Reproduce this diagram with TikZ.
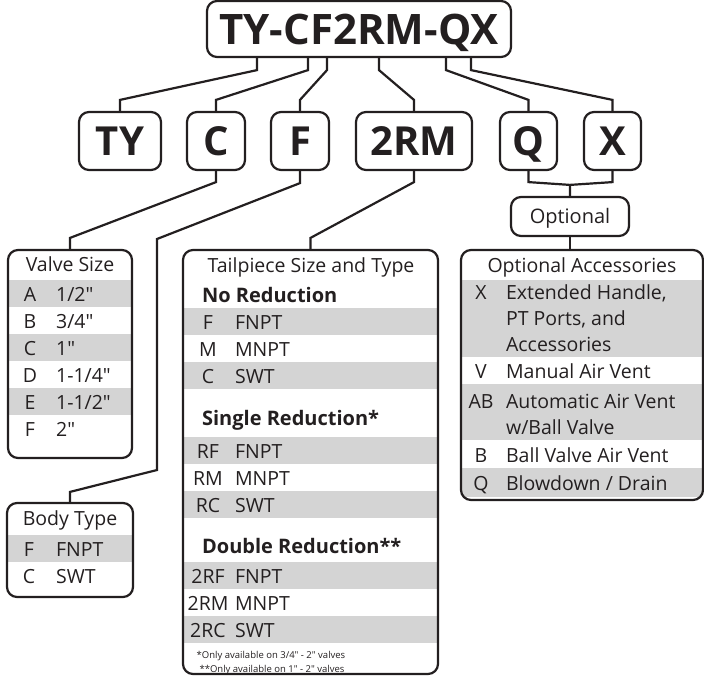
\documentclass[tikz,border=0pt]{standalone}
\usepackage{fontspec}
\setmainfont{Open Sans}[Ligatures=TeXOff]
\usetikzlibrary{positioning}
\definecolor{inkdark}{HTML}{231F20}
\definecolor{rowgray}{HTML}{D4D4D4}

\begin{document}
\begin{tikzpicture}[x=1pt, y=-1pt, color=inkdark, line width=2.2pt,
  codebox/.style={rectangle, rounded corners=10pt, draw=inkdark, inner sep=0pt, minimum height=58pt, text height=29pt, text depth=0pt, font=\fontsize{40}{40}\selectfont\bfseries},
  listbox/.style={rectangle, rounded corners=10pt, draw=inkdark, inner sep=0pt},
  rowtext/.style={font=\fontsize{19.5}{26}\selectfont, inner sep=0pt, anchor=base west},
  codetext/.style={font=\fontsize{19.5}{26}\selectfont, inner sep=0pt, anchor=base},
  headtext/.style={font=\fontsize{20}{24}\selectfont\bfseries, inner sep=0pt, anchor=base west},
  notetext/.style={font=\fontsize{9.5}{11}\selectfont, inner sep=0pt, anchor=base},
  link/.style={draw=inkdark, line width=2.2pt}]
\useasboundingbox (0,0) rectangle (704,675);

% Gray rows
\fill[rowgray] (8,280) rectangle (132,307);
\fill[rowgray] (8,334) rectangle (132,361);
\fill[rowgray] (8,388) rectangle (132,415);
\fill[rowgray] (7,535) rectangle (133,562);
\fill[rowgray] (183,308) rectangle (438,335);
\fill[rowgray] (183,362) rectangle (438,389);
\fill[rowgray] (183,437) rectangle (438,464);
\fill[rowgray] (183,491) rectangle (438,518);
\fill[rowgray] (183,562) rectangle (438,589);
\fill[rowgray] (183,616) rectangle (438,643);
\begin{scope}
\clip[rounded corners=10pt] (461,250) rectangle (703,500);
\fill[rowgray] (461,280) rectangle (703,357);
\fill[rowgray] (461,384) rectangle (703,440);
\fill[rowgray] (461,468) rectangle (703,497);
\end{scope}

% Boxes
\node[codebox, minimum width=304pt, minimum height=56pt, text height=30pt, font=\fontsize{42}{42}\selectfont\bfseries] (model) at (359,29) {TY-CF2RM-QX};
\node[codebox, minimum width=82pt] (ty) at (120,141) {TY};
\node[codebox, minimum width=58pt] (c) at (216,141) {C};
\node[codebox, minimum width=58pt] (f) at (300,141) {F};
\node[codebox, minimum width=116pt] (rm) at (414,141) {2RM};
\node[codebox, minimum width=57pt] (q) at (528.5,141) {Q};
\node[codebox, minimum width=57pt] (x) at (612.5,141) {X};
\node[listbox, minimum width=118pt, minimum height=39pt, text height=14pt, text depth=0pt, font=\fontsize{20}{24}\selectfont] (opt) at (570,216.5) {Optional};

\node[listbox, minimum width=124pt, minimum height=208pt] (valve) at (70,354) {};
\node[listbox, minimum width=126pt, minimum height=94pt] (body) at (70,550) {};
\node[listbox, minimum width=255pt, minimum height=424pt] (tail) at (310.5,462) {};
\node[listbox, minimum width=242pt, minimum height=250pt] (acc) at (582,375) {};

% Connectors
\coordinate (fbend1) at (157,239);
\coordinate (fbend2) at (157,470);
\draw[link] ([xshift=-102pt]model.south) -- ++(0,12) -- ([yshift=11pt]ty.north) -- (ty.north);
\draw[link] ([xshift=-51pt]model.south) -- ++(0,12) -- ([yshift=11pt]c.north) -- (c.north);
\draw[link] ([xshift=-32pt]model.south) -- ++(0,12) -- ([yshift=11pt]f.north) -- (f.north);
\draw[link] ([xshift=20pt]model.south) -- ++(0,12) -- ([yshift=11pt]rm.north) -- (rm.north);
\draw[link] ([xshift=87pt]model.south) -- ++(0,12) -- ([yshift=11pt]q.north) -- (q.north);
\draw[link] ([xshift=112pt]model.south) -- ++(0,12) -- ([yshift=11pt]x.north) -- (x.north);
\draw[link] (q.south) -- ++(0,11) -- ([yshift=11pt]opt.north) -- (opt.north);
\draw[link] (x.south) -- ++(0,11) -- ([yshift=11pt]opt.north);
\draw[link] (opt.south) -- (opt.south |- acc.north);
\draw[link] (c.south) -- ++(0,11) -- ([yshift=11pt]valve.north) -- (valve.north);
\draw[link] (f.south) -- ++(0,12) -- (fbend1) -- (fbend2) -- ([yshift=10pt]body.north) -- (body.north);
\draw[link] (rm.south) -- ++(0,11) -- ([yshift=11pt]tail.north) -- (tail.north);

% Valve Size
\node[codetext] at (70,271) {Valve Size};
\node[codetext] at (30,301) {A};  \node[rowtext] at (55,301) {1/2"};
\node[codetext] at (30,328) {B};  \node[rowtext] at (55,328) {3/4"};
\node[codetext] at (30,355) {C};  \node[rowtext] at (55,355) {1"};
\node[codetext] at (30,382) {D};  \node[rowtext] at (55,382) {1-1/4"};
\node[codetext] at (30,409) {E};  \node[rowtext] at (55,409) {1-1/2"};
\node[codetext] at (30,436) {F};  \node[rowtext] at (55,436) {2"};

% Body Type
\node[codetext] at (70,525) {Body Type};
\node[codetext] at (29,556) {F};  \node[rowtext] at (55,556) {FNPT};
\node[codetext] at (29,583) {C};  \node[rowtext] at (55,583) {SWT};

% Tailpiece Size and Type
\node[codetext] at (311,272) {Tailpiece Size and Type};
\node[headtext] at (201,302) {No Reduction};
\node[codetext] at (208,329) {F};  \node[rowtext] at (234,329) {FNPT};
\node[codetext] at (208,356) {M};  \node[rowtext] at (234,356) {MNPT};
\node[codetext] at (208,383) {C};  \node[rowtext] at (234,383) {SWT};
\node[headtext] at (201,425) {Single Reduction*};
\node[codetext] at (208,458) {RF};  \node[rowtext] at (234,458) {FNPT};
\node[codetext] at (208,485) {RM};  \node[rowtext] at (234,485) {MNPT};
\node[codetext] at (208,512) {RC};  \node[rowtext] at (234,512) {SWT};
\node[headtext] at (201,553) {Double Reduction**};
\node[codetext] at (208,583) {2RF};  \node[rowtext] at (234,583) {FNPT};
\node[codetext] at (208,610) {2RM};  \node[rowtext] at (234,610) {MNPT};
\node[codetext] at (208,637) {2RC};  \node[rowtext] at (234,637) {SWT};
\node[notetext] at (271,658) {*Only available on 3/4" - 2" valves};
\node[notetext] at (272,672) {**Only available on 1" - 2" valves};

% Optional Accessories
\node[codetext] at (582,272) {Optional Accessories};
\node[codetext] at (481,299) {X};  \node[rowtext, align=left] at (505,351) {Extended Handle,\\PT Ports, and\\Accessories};
\node[codetext] at (481,378) {V};  \node[rowtext] at (505,378) {Manual Air Vent};
\node[codetext] at (481,408) {AB};  \node[rowtext, align=left] at (505,434) {Automatic Air Vent\\w/Ball Valve};
\node[codetext] at (481,462) {B};  \node[rowtext] at (505,462) {Ball Valve Air Vent};
\node[codetext] at (481,490) {Q};  \node[rowtext] at (505,490) {Blowdown / Drain};
\end{tikzpicture}
\end{document}
